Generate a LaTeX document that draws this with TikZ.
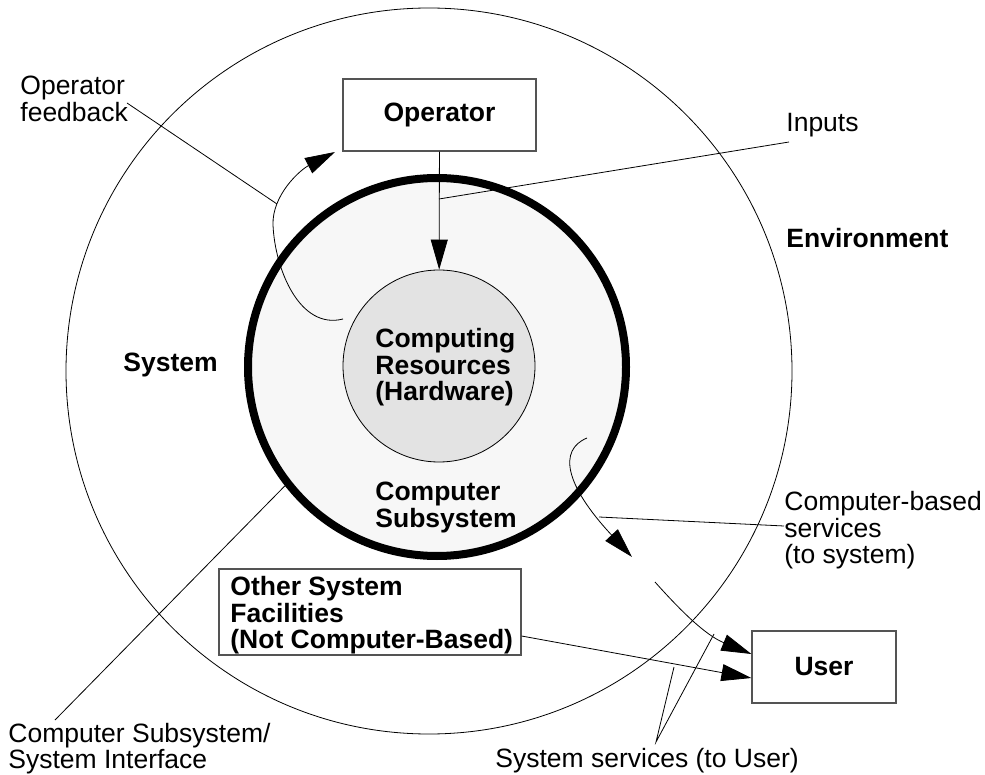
\documentclass[tikz,border=0pt]{standalone}
\usepackage{fontspec}
\setmainfont{Liberation Sans}
\usetikzlibrary{arrows.meta}
\definecolor{ringgray}{gray}{0.97}
\definecolor{hwgray}{gray}{0.89}
\definecolor{boxline}{gray}{0.33}

\begin{document}
\begin{tikzpicture}[x=1pt,y=-1pt,line width=0.8pt,
  lbl/.style={inner sep=0pt,anchor=north west,align=left,font=\fontsize{26.5}{26.5}\selectfont},
  blbl/.style={lbl,font=\fontsize{26.5}{26.5}\selectfont\bfseries},
  sbox/.style={draw=boxline,line width=1.2pt,inner sep=0pt},
  bigtip/.style={-{Triangle[length=30pt,width=17pt]}}]
    \useasboundingbox (0,0) rectangle (985,775);
    % the three circles
    \node[draw,circle,inner sep=0pt,minimum size=726pt] (env) at (429,371) {};
    \node[draw,circle,inner sep=0pt,line width=8pt,fill=ringgray,minimum size=378pt] (csub) at (437,367) {};
    \node[draw,circle,inner sep=0pt,fill=hwgray,minimum size=192pt] (hw) at (439,366) {};
    % boxes
    \node[sbox,minimum width=193pt,minimum height=72pt,font=\fontsize{26.5}{26.5}\selectfont\bfseries] (op) at (439.5,115) {Operator};
    \node[sbox,minimum width=144pt,minimum height=72pt,font=\fontsize{26.5}{26.5}\selectfont\bfseries] (user) at (824,667) {User};
    \node[sbox,minimum width=302pt,minimum height=86pt] (other) at (370,612) {};
    % labels
    \node[blbl] (othertext) at (230,576) {Other System\\Facilities\\(Not Computer-Based)};
    \node[blbl] (hwtext) at (375,328) {Computing\\Resources\\(Hardware)};
    \node[blbl] (cstext) at (375,482) {Computer\\Subsystem};
    \node[blbl] (systext) at (123,353) {System};
    \node[blbl] (envtext) at (786,228) {Environment};
    \node[lbl] (fbtext) at (20,76) {Operator\\feedback};
    \node[lbl] (intext) at (786,113) {Inputs};
    \node[lbl] (cbtext) at (784,491) {Computer-based\\services\\(to system)};
    \node[lbl,font=\fontsize{26.5}{24.5}\selectfont] (iftext) at (8,723) {Computer Subsystem/\\System Interface};
    \node[lbl] (sstext) at (495,748) {System services (to User)};
    % points on the flows and leader ends
    \coordinate (fbstart) at (343,319);
    \coordinate (fbmid) at (277,204);
    \coordinate (fbend) at (127,103);
    \coordinate (inmid) at (439,199);
    \coordinate (inend) at (789,142);
    \coordinate (svstart) at (587,438);
    \coordinate (svtip) at (632,557);
    \coordinate (svmid) at (599,517);
    \coordinate (cbend) at (784,526);
    \coordinate (sv2start) at (655,582);
    \coordinate (ifend) at (55,720);
    \coordinate (ssa) at (674,667);
    \coordinate (ssb) at (714,634);
    \coordinate (ssapex) at (656,742);
    % flows
    \draw[bigtip] (op) -- (hw);
    \draw[bigtip] (fbstart) .. controls (300,330) and (275,270) .. (273,225)
        .. controls (272,195) and (300,170) .. (335,152);
    \draw[bigtip] (svstart) .. controls (558,450) and (565,485) .. (svtip);
    \draw[bigtip] (sv2start) .. controls (680,610) and (705,635) .. ([yshift=13pt]user.west);
    \draw[bigtip] ([yshift=-24pt]other.east) -- ([yshift=-11pt]user.west);
    % leaders
    \draw (fbend) -- (fbmid);
    \draw (inend) -- (inmid);
    \draw (cbend) -- (svmid);
    \draw (ifend) -- (csub.218);
    \draw (ssa) -- (ssapex) -- (ssb);
\end{tikzpicture}
\end{document}
